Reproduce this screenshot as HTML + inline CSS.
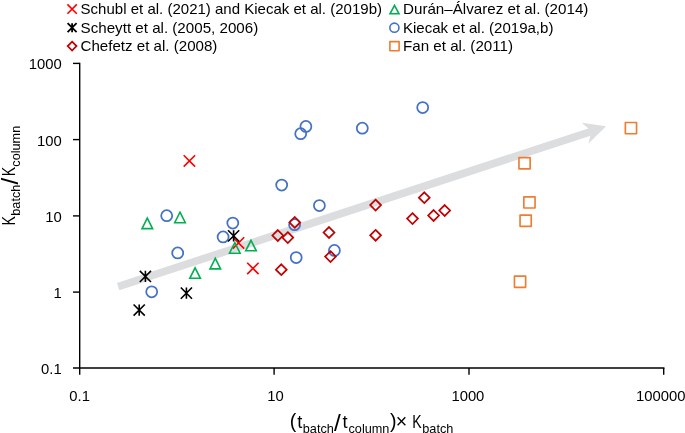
<!DOCTYPE html>
<html><head><meta charset="utf-8"><title>Chart</title>
<style>
html,body{margin:0;padding:0;background:#fff;}
svg{display:block;}
text{font-family:"Liberation Sans",sans-serif;fill:#000;}
.tk{font-size:15.4px;}
.lg{font-size:14.8px;}
.tt{font-size:18.2px;}
.sb{font-size:12.7px;}
.sl{font-size:24.3px;}
.pr{font-size:19.6px;}
</style></head><body>
<svg width="685" height="433" viewBox="0 0 685 433">
<rect width="685" height="433" fill="#fff"/>
<g transform="translate(606.05,126.3) rotate(-18.16)" fill="#DCDDDE" stroke="none"><rect x="-513.6" y="-3.55" width="500" height="7.7"/><polygon points="0,0 -22,-10.9 -15.4,0 -22,10.9"/></g>
<g stroke="#000" stroke-width="1.4" fill="none"><line x1="79.7" y1="62.65" x2="79.7" y2="374.7"/><line x1="73.0" y1="368.0" x2="664.45" y2="368.0"/><line x1="73.0" y1="63.4" x2="79.7" y2="63.4"/><line x1="73.0" y1="139.6" x2="79.7" y2="139.6"/><line x1="73.0" y1="215.9" x2="79.7" y2="215.9"/><line x1="73.0" y1="292.1" x2="79.7" y2="292.1"/><line x1="274.1" y1="368.0" x2="274.1" y2="374.7"/><line x1="469.0" y1="368.0" x2="469.0" y2="374.7"/><line x1="663.7" y1="368.0" x2="663.7" y2="374.7"/></g>
<path d="M183.70,155.20L195.10,166.60M183.70,166.60L195.10,155.20" stroke="#FF0000" stroke-width="1.6" fill="none"/><path d="M232.80,237.20L244.20,248.60M232.80,248.60L244.20,237.20" stroke="#FF0000" stroke-width="1.6" fill="none"/><path d="M247.20,262.70L258.60,274.10M247.20,274.10L258.60,262.70" stroke="#FF0000" stroke-width="1.6" fill="none"/>
<path d="M147.30,218.10L152.60,228.60L142.00,228.60Z" stroke="#00B050" stroke-width="1.6" fill="none"/><path d="M180.00,212.20L185.30,222.70L174.70,222.70Z" stroke="#00B050" stroke-width="1.6" fill="none"/><path d="M195.10,267.80L200.40,278.30L189.80,278.30Z" stroke="#00B050" stroke-width="1.6" fill="none"/><path d="M215.30,258.40L220.60,268.90L210.00,268.90Z" stroke="#00B050" stroke-width="1.6" fill="none"/><path d="M234.80,242.70L240.10,253.20L229.50,253.20Z" stroke="#00B050" stroke-width="1.6" fill="none"/><path d="M251.00,240.30L256.30,250.80L245.70,250.80Z" stroke="#00B050" stroke-width="1.6" fill="none"/>
<circle cx="166.7" cy="215.7" r="5.5" stroke="#4472C4" stroke-width="1.75" fill="none"/><circle cx="177.7" cy="252.9" r="5.5" stroke="#4472C4" stroke-width="1.75" fill="none"/><circle cx="151.7" cy="291.8" r="5.5" stroke="#4472C4" stroke-width="1.75" fill="none"/><circle cx="223.1" cy="236.9" r="5.5" stroke="#4472C4" stroke-width="1.75" fill="none"/><circle cx="232.8" cy="223.1" r="5.5" stroke="#4472C4" stroke-width="1.75" fill="none"/><circle cx="305.9" cy="126.4" r="5.5" stroke="#4472C4" stroke-width="1.75" fill="none"/><circle cx="300.7" cy="133.7" r="5.5" stroke="#4472C4" stroke-width="1.75" fill="none"/><circle cx="362.3" cy="128.2" r="5.5" stroke="#4472C4" stroke-width="1.75" fill="none"/><circle cx="281.7" cy="185.1" r="5.5" stroke="#4472C4" stroke-width="1.75" fill="none"/><circle cx="319.4" cy="205.5" r="5.5" stroke="#4472C4" stroke-width="1.75" fill="none"/><circle cx="294.6" cy="224.7" r="5.5" stroke="#4472C4" stroke-width="1.75" fill="none"/><circle cx="334.4" cy="250.4" r="5.5" stroke="#4472C4" stroke-width="1.75" fill="none"/><circle cx="296.2" cy="257.5" r="5.5" stroke="#4472C4" stroke-width="1.75" fill="none"/><circle cx="422.7" cy="107.5" r="5.5" stroke="#4472C4" stroke-width="1.75" fill="none"/>
<path d="M139.80,270.85L151.00,282.05M139.80,282.05L151.00,270.85M145.40,270.85L145.40,282.05" stroke="#000" stroke-width="1.6" fill="none"/><path d="M180.80,287.55L192.00,298.75M180.80,298.75L192.00,287.55M186.40,287.55L186.40,298.75" stroke="#000" stroke-width="1.6" fill="none"/><path d="M133.60,304.45L144.80,315.65M133.60,315.65L144.80,304.45M139.20,304.45L139.20,315.65" stroke="#000" stroke-width="1.6" fill="none"/><path d="M228.00,230.25L239.20,241.45M228.00,241.45L239.20,230.25M233.60,230.25L233.60,241.45" stroke="#000" stroke-width="1.6" fill="none"/>
<path d="M375.60,199.70L381.00,205.10L375.60,210.50L370.20,205.10Z" stroke="#C00000" stroke-width="1.75" fill="none"/><path d="M294.80,217.00L300.20,222.40L294.80,227.80L289.40,222.40Z" stroke="#C00000" stroke-width="1.75" fill="none"/><path d="M277.80,230.10L283.20,235.50L277.80,240.90L272.40,235.50Z" stroke="#C00000" stroke-width="1.75" fill="none"/><path d="M287.80,232.20L293.20,237.60L287.80,243.00L282.40,237.60Z" stroke="#C00000" stroke-width="1.75" fill="none"/><path d="M329.00,227.10L334.40,232.50L329.00,237.90L323.60,232.50Z" stroke="#C00000" stroke-width="1.75" fill="none"/><path d="M375.60,229.90L381.00,235.30L375.60,240.70L370.20,235.30Z" stroke="#C00000" stroke-width="1.75" fill="none"/><path d="M412.50,213.20L417.90,218.60L412.50,224.00L407.10,218.60Z" stroke="#C00000" stroke-width="1.75" fill="none"/><path d="M330.50,251.20L335.90,256.60L330.50,262.00L325.10,256.60Z" stroke="#C00000" stroke-width="1.75" fill="none"/><path d="M281.30,264.30L286.70,269.70L281.30,275.10L275.90,269.70Z" stroke="#C00000" stroke-width="1.75" fill="none"/><path d="M424.30,192.30L429.70,197.70L424.30,203.10L418.90,197.70Z" stroke="#C00000" stroke-width="1.75" fill="none"/><path d="M444.70,205.10L450.10,210.50L444.70,215.90L439.30,210.50Z" stroke="#C00000" stroke-width="1.75" fill="none"/><path d="M433.60,210.10L439.00,215.50L433.60,220.90L428.20,215.50Z" stroke="#C00000" stroke-width="1.75" fill="none"/>
<rect x="625.35" y="122.50" width="11.20" height="11.20" stroke="#ED7D31" stroke-width="1.65" stroke-linejoin="round" fill="none"/><rect x="518.95" y="157.60" width="11.20" height="11.20" stroke="#ED7D31" stroke-width="1.65" stroke-linejoin="round" fill="none"/><rect x="523.85" y="196.80" width="11.20" height="11.20" stroke="#ED7D31" stroke-width="1.65" stroke-linejoin="round" fill="none"/><rect x="520.05" y="215.10" width="11.20" height="11.20" stroke="#ED7D31" stroke-width="1.65" stroke-linejoin="round" fill="none"/><rect x="514.45" y="276.10" width="11.20" height="11.20" stroke="#ED7D31" stroke-width="1.65" stroke-linejoin="round" fill="none"/>
<path d="M67.40,4.40L76.80,13.80M67.40,13.80L76.80,4.40" stroke="#FF0000" stroke-width="1.6" fill="none"/><path d="M67.60,23.20L76.60,32.20M67.60,32.20L76.60,23.20M72.10,23.20L72.10,32.20" stroke="#000" stroke-width="1.8" fill="none"/><path d="M72.10,41.70L76.50,46.10L72.10,50.50L67.70,46.10Z" stroke="#C00000" stroke-width="1.75" fill="none"/><path d="M394.50,5.33L399.00,13.75L390.00,13.75Z" stroke="#00B050" stroke-width="1.6" fill="none"/><circle cx="394.4" cy="27.7" r="4.55" stroke="#4472C4" stroke-width="1.6" fill="none"/><rect x="389.90" y="41.60" width="9.20" height="9.20" stroke="#ED7D31" stroke-width="1.6" stroke-linejoin="round" fill="none"/>
<text class="lg" x="80.6" y="14.2" textLength="301.4" lengthAdjust="spacingAndGlyphs">Schubl et al. (2021) and Kiecak et al. (2019b)</text>
<text class="lg" x="80.6" y="32.75" textLength="177.6" lengthAdjust="spacingAndGlyphs">Scheytt et al. (2005, 2006)</text>
<text class="lg" x="80.5" y="51.2" textLength="136.9" lengthAdjust="spacingAndGlyphs">Chefetz et al. (2008)</text>
<text class="lg" x="403.0" y="14.2" textLength="185.4" lengthAdjust="spacingAndGlyphs">Durán–Álvarez et al. (2014)</text>
<text class="lg" x="403.0" y="32.75" textLength="150.4" lengthAdjust="spacingAndGlyphs">Kiecak et al. (2019a,b)</text>
<text class="lg" x="403.0" y="51.2" textLength="110.0" lengthAdjust="spacingAndGlyphs">Fan et al. (2011)</text>
<text class="tk" x="28.71" y="69.3" textLength="32.99" lengthAdjust="spacingAndGlyphs">1000</text>
<text class="tk" x="36.96" y="145.5" textLength="24.74" lengthAdjust="spacingAndGlyphs">100</text>
<text class="tk" x="45.20" y="221.8" textLength="16.50" lengthAdjust="spacingAndGlyphs">10</text>
<text class="tk" x="53.45" y="298.1" textLength="8.25" lengthAdjust="spacingAndGlyphs">1</text>
<text class="tk" x="41.08" y="373.9" textLength="20.62" lengthAdjust="spacingAndGlyphs">0.1</text>
<text class="tk" x="69.34" y="400.9" textLength="20.62" lengthAdjust="spacingAndGlyphs">0.1</text>
<text class="tk" x="267.25" y="400.9" textLength="16.50" lengthAdjust="spacingAndGlyphs">10</text>
<text class="tk" x="451.40" y="400.9" textLength="32.99" lengthAdjust="spacingAndGlyphs">1000</text>
<text class="tk" x="635.96" y="400.9" textLength="49.49" lengthAdjust="spacingAndGlyphs">100000</text>
<text class="tt"><tspan class="pr" x="289.8" y="428.0">(</tspan><tspan class="tt" x="297.3" y="427.7">t</tspan><tspan class="sb" x="302.8" y="432.7">batch</tspan><tspan class="sl" x="334.0" y="430.8">/</tspan><tspan class="tt" x="342.6" y="427.7">t</tspan><tspan class="sb" x="348.5" y="432.7">column</tspan><tspan class="pr" x="389.9" y="428.0">)</tspan><tspan class="pr" x="395.8" y="428.0">× </tspan><tspan class="tt" x="412.3" y="427.7" textLength="9.4" lengthAdjust="spacingAndGlyphs">K</tspan><tspan class="sb" x="422.3" y="432.7">batch</tspan></text>
<text class="tt" transform="translate(15.2,224.8) rotate(-90)"><tspan class="tt" x="-0.8" y="0" textLength="9.4" lengthAdjust="spacingAndGlyphs">K</tspan><tspan class="sb" x="9.1" y="5">batch</tspan><tspan class="sl" x="40.2" y="2.3">/</tspan><tspan class="tt" x="48.5" y="0" textLength="9.4" lengthAdjust="spacingAndGlyphs">K</tspan><tspan class="sb" x="58.1" y="5">column</tspan></text>
</svg></body></html>
